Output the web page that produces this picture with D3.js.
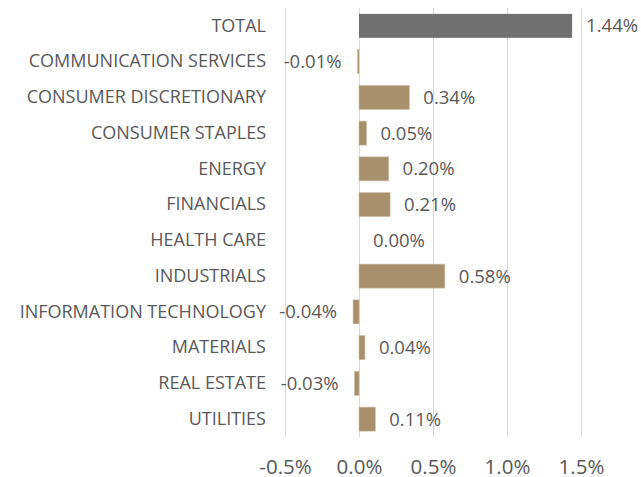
<!DOCTYPE html>
<html>
<head>
<meta charset="utf-8">
<script src="https://cdn.jsdelivr.net/npm/d3@7"></script>
<style>
  body { margin: 0; background: #fff; }
  text { font-family: "Open Sans", sans-serif; fill: #595959; }
</style>
</head>
<body>
<svg id="chart" width="641" height="477"></svg>
<script>
var categories = ['TOTAL', 'COMMUNICATION SERVICES', 'CONSUMER DISCRETIONARY', 'CONSUMER STAPLES',
    'ENERGY', 'FINANCIALS', 'HEALTH CARE', 'INDUSTRIALS', 'INFORMATION TECHNOLOGY',
    'MATERIALS', 'REAL ESTATE', 'UTILITIES'];
var values = [1.44, -0.01, 0.34, 0.05, 0.20, 0.21, 0.00, 0.58, -0.04, 0.04, -0.03, 0.11];
var xTicks = [-0.5, 0.0, 0.5, 1.0, 1.5];

var svg = d3.select('#chart');
var plotLeft = 285, plotRight = 581, plotTop = 8, plotBottom = 437;

var x = d3.scaleLinear().domain([-0.5, 1.5]).range([plotLeft, plotRight]);
var y = d3.scaleBand().domain(categories).range([plotTop, plotBottom]).paddingInner(0.33).paddingOuter(0.165);

function pct(n, dec) {
    return n.toFixed(dec) + '%';
}

// gridlines
svg.append('g').selectAll('line')
    .data(xTicks)
    .enter().append('line')
    .attr('x1', function(d){ return Math.round(x(d)) + 0.5; })
    .attr('x2', function(d){ return Math.round(x(d)) + 0.5; })
    .attr('y1', plotTop)
    .attr('y2', plotBottom)
    .style('stroke', '#d9d9d9')
    .style('stroke-width', 1);

// bars
svg.append('g').selectAll('rect')
    .data(values)
    .enter().append('rect')
    .attr('x', function(d){ return x(Math.min(0, d)); })
    .attr('y', function(d, i){ return y(categories[i]); })
    .attr('width', function(d){ return Math.abs(x(d) - x(0)); })
    .attr('height', y.bandwidth())
    .style('fill', function(d, i){ return i === 0 ? '#707070' : '#a8906c'; })
    .style('stroke', function(d, i){ return i === 0 ? 'none' : '#c9b99f'; })
    .style('stroke-width', 0.6);

// value labels
svg.append('g').selectAll('text')
    .data(values)
    .enter().append('text')
    .attr('x', function(d){ return d < 0 ? x(d) - 16 : x(d) + 14; })
    .attr('y', function(d, i){ return y(categories[i]) + y.bandwidth() / 2; })
    .attr('dy', '0.35em')
    .attr('text-anchor', function(d){ return d < 0 ? 'end' : 'start'; })
    .style('font-size', '18.5px')
    .text(function(d){ return pct(d, 2); });

// category axis
svg.append('g')
    .attr('transform', 'translate(266,0)')
    .call(d3.axisLeft(y).tickSize(0).tickPadding(0))
    .call(function(g){ g.select('.domain').remove(); })
    .selectAll('text')
    .style('font-size', '18px')
    .style('font-family', '"Open Sans", sans-serif')
    .attr('fill', '#595959');

// value axis
svg.append('g')
    .attr('transform', 'translate(0,' + plotBottom + ')')
    .call(d3.axisBottom(x).tickValues(xTicks).tickSize(0).tickPadding(22.5)
        .tickFormat(function(d){ return pct(d, 1); }))
    .call(function(g){ g.select('.domain').remove(); })
    .selectAll('text')
    .style('font-size', '20.5px')
    .style('font-family', '"Open Sans", sans-serif')
    .attr('fill', '#595959');
</script>
</body>
</html>
